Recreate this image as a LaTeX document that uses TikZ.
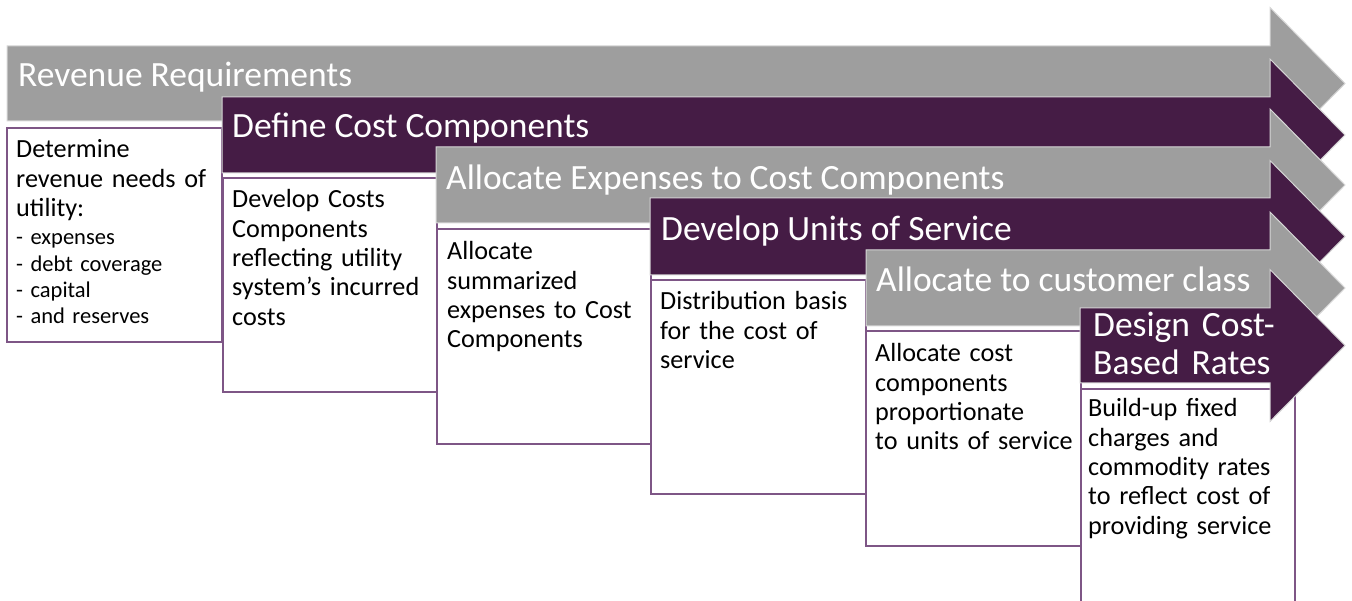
\documentclass[tikz,border=0pt]{standalone}
\usepackage{fontspec}
\setmainfont{Carlito}
\definecolor{rrgray}{HTML}{9E9E9E}
\definecolor{rrplum}{HTML}{451C45}
\definecolor{rrbox}{HTML}{7E5686}
\definecolor{rredge}{HTML}{D6D6D6}
\begin{document}
\begin{tikzpicture}[x=1pt,y=-1pt,
  stagebox/.style={draw=rrbox,line width=1.3pt,fill=white},
  arrowshape/.style={draw=rredge,line width=1pt},
  titletext/.style={anchor=base west,inner sep=0pt,text=white,font=\fontsize{35.5}{38}\selectfont},
  bodytext/.style={anchor=base west,inner sep=0pt,text=black,text width=260pt,align=left,font=\fontsize{26.2}{29.3}\selectfont}]
\useasboundingbox (0,0) rectangle (1352,601);
% boxes
\path[stagebox] (7,128) rectangle (222,342);
\path[stagebox] (223,178) rectangle (437,392);
\path[stagebox] (437,229) rectangle (651,444);
\path[stagebox] (651,280) rectangle (866,494);
\path[stagebox] (866,331) rectangle (1081,546);
\path[stagebox] (1081,389) rectangle (1295,610);
% arrows
\newcommand{\stagearrow}[5]{%
  \path[arrowshape,fill=#1] (#2,#3) -- (1270,#3) -- (1270,#4-76) -- (1345,#4) -- (1270,#4+76) -- (1270,#5) -- (#2,#5) -- cycle;}
\stagearrow{rrgray}{7}{46}{83.5}{121}
\node[titletext] (t1) at (18,87) {Revenue Requirements};
\stagearrow{rrplum}{222}{97}{135}{173}
\node[titletext] (t2) at (232,138) {Define Cost Components};
\stagearrow{rrgray}{436}{147}{185}{223}
\node[titletext] (t3) at (446,190) {Allocate Expenses to Cost Components};
\stagearrow{rrplum}{650}{198}{236.5}{275}
\node[titletext] (t4) at (661,241) {Develop Units of Service};
\stagearrow{rrgray}{866}{250}{288}{326}
\node[titletext] (t5) at (876,292) {Allocate to customer class};
\stagearrow{rrplum}{1080}{308}{345.5}{383}
\node[titletext,align=left,text width=250pt] (t6) at (1093,337) {Design Cost-\\Based Rates};
% box texts
\node[bodytext] (b1) at (16,158) {Determine\\revenue needs of\\utility:};
\node[bodytext,font=\fontsize{22.5}{26.3}\selectfont] (b1b) at (16,245) {- expenses\\- debt coverage\\- capital\\- and reserves};
\node[bodytext] (b2) at (232,208) {Develop Costs\\Components\\reflecting utility\\system’s incurred\\costs};
\node[bodytext] (b3) at (447,260) {Allocate\\summarized\\expenses to Cost\\Components};
\node[bodytext] (b4) at (660,310) {Distribution basis\\for the cost of\\service};
\node[bodytext] (b5) at (875,362) {Allocate cost\\components\\proportionate\\to units of service};
\node[bodytext] (b6) at (1088,417) {Build-up fixed\\charges and\\commodity rates\\to reflect cost of\\providing service};
\end{tikzpicture}
\end{document}
